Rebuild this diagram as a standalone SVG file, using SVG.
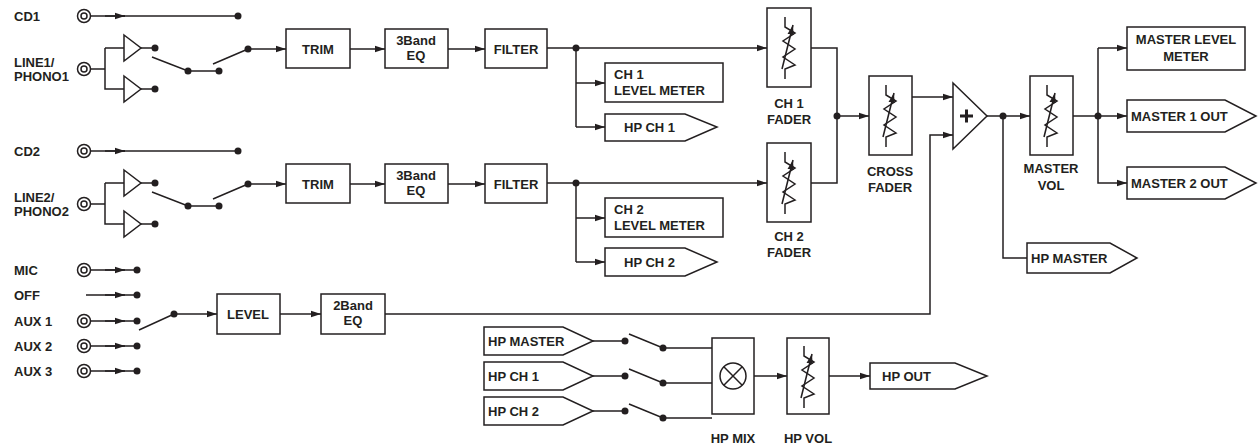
<svg xmlns="http://www.w3.org/2000/svg" width="1260" height="448" viewBox="0 0 1260 448">
<style>
.l{stroke:#231f20;stroke-width:1.5;fill:none}
.b{stroke:#231f20;stroke-width:1.5;fill:#fff}
.t{font-family:"Liberation Sans",Arial,sans-serif;font-weight:bold;font-size:13px;fill:#231f20}
.c{text-anchor:middle}
.d{fill:#231f20}
</style>
<defs>
<marker id="a" markerWidth="10" markerHeight="8" refX="10" refY="4" orient="auto" markerUnits="userSpaceOnUse"><path d="M0,0.8 L10,4 L0,7.2z" fill="#231f20"/></marker>
<g id="jack"><circle r="6.5" class="l"/><circle r="3" class="l"/></g>
<g id="fad"><path class="l" d="M-4,-30 V-20 L6,-14 L-6,-6 L6,2 L-6,10 L6,18 L-4,22 V32"/><path class="l" d="M-7,22 L4,-22" marker-end="url(#a)"/></g>
<g id="amp"><path class="b" d="M0,-13 L17,0 L0,13z"/></g>
</defs>

<g id="connectors">
<!-- CH1 -->
<path class="l" d="M91,16 H125"/><path class="l" d="M105,16 H125" marker-end="url(#a)"/><path class="l" d="M120,16 H238"/>
<path class="l" d="M91,69 H105 M105,48 V89 H124 M105,48 H124 M141,48 H155 M141,89 H155"/>
<path class="l" d="M152,57 L188,71 H219 M213,64 L248,49"/>
<path class="l" d="M248,49 H286" marker-end="url(#a)"/>
<path class="l" d="M350,49 H385" marker-end="url(#a)"/>
<path class="l" d="M448,49 H485" marker-end="url(#a)"/>
<path class="l" d="M547,48 H767" marker-end="url(#a)"/>
<path class="l" d="M576,48 V127"/>
<path class="l" d="M576,83 H605" marker-end="url(#a)"/>
<path class="l" d="M576,127 H605" marker-end="url(#a)"/>
<!-- CH2 -->
<path class="l" d="M91,151 H125"/><path class="l" d="M105,151 H125" marker-end="url(#a)"/><path class="l" d="M120,151 H238"/>
<path class="l" d="M91,204 H105 M105,183 V224 H124 M105,183 H124 M141,183 H155 M141,224 H155"/>
<path class="l" d="M152,192 L188,206 H219 M213,199 L248,184"/>
<path class="l" d="M248,184 H286" marker-end="url(#a)"/>
<path class="l" d="M350,184 H385" marker-end="url(#a)"/>
<path class="l" d="M448,184 H485" marker-end="url(#a)"/>
<path class="l" d="M547,183 H767" marker-end="url(#a)"/>
<path class="l" d="M576,183 V262"/>
<path class="l" d="M576,218 H605" marker-end="url(#a)"/>
<path class="l" d="M576,262 H605" marker-end="url(#a)"/>
<!-- faders to cross -->
<path class="l" d="M811,48 H837 V183 H811"/>
<path class="l" d="M837,116 H869" marker-end="url(#a)"/>
<path class="l" d="M912,97 H953" marker-end="url(#a)"/>
<path class="l" d="M385,314 H930 V135 H953" marker-end="url(#a)"/>
<path class="l" d="M987,116 H1030" marker-end="url(#a)"/>
<path class="l" d="M1003,116 V258 H1027"/>
<path class="l" d="M1073,116 H1127" marker-end="url(#a)"/>
<path class="l" d="M1098,48 H1127" marker-end="url(#a)"/>
<path class="l" d="M1098,48 V183 H1127" marker-end="url(#a)"/>
<!-- mic -->
<path class="l" d="M91,270 H137 M86,295 H137 M91,321 H137 M91,346 H137 M91,371 H137"/>
<path class="l" d="M105,270 H125" marker-end="url(#a)"/>
<path class="l" d="M105,295 H125" marker-end="url(#a)"/>
<path class="l" d="M105,321 H125" marker-end="url(#a)"/>
<path class="l" d="M105,346 H125" marker-end="url(#a)"/>
<path class="l" d="M105,371 H125" marker-end="url(#a)"/>
<path class="l" d="M139,330 L174,314"/>
<path class="l" d="M174,314 H217" marker-end="url(#a)"/>
<path class="l" d="M280,314 H321" marker-end="url(#a)"/>
<!-- HP -->
<path class="l" d="M593,341 H625 M629,334 L663,348 H712"/>
<path class="l" d="M593,376 H625 M629,369 L663,383 H712"/>
<path class="l" d="M593,411 H625 M629,404 L663,418 H712"/>
<path class="l" d="M754,376 H787" marker-end="url(#a)"/>
<path class="l" d="M829,376 H870" marker-end="url(#a)"/>
</g>

<g id="dots" class="d">
<circle cx="238" cy="16" r="3.5"/><circle cx="155" cy="48" r="3.5"/><circle cx="155" cy="89" r="3.5"/><circle cx="188" cy="71" r="3.5"/><circle cx="219" cy="71" r="3.5"/><circle cx="248" cy="49" r="3.5"/><circle cx="576" cy="48" r="3.5"/>
<circle cx="238" cy="151" r="3.5"/><circle cx="155" cy="183" r="3.5"/><circle cx="155" cy="224" r="3.5"/><circle cx="188" cy="206" r="3.5"/><circle cx="219" cy="206" r="3.5"/><circle cx="248" cy="184" r="3.5"/><circle cx="576" cy="183" r="3.5"/>
<circle cx="837" cy="116" r="3.5"/><circle cx="1003" cy="116" r="3.5"/><circle cx="1098" cy="116" r="3.5"/>
<circle cx="137" cy="270" r="3.5"/><circle cx="137" cy="295" r="3.5"/><circle cx="137" cy="321" r="3.5"/><circle cx="137" cy="346" r="3.5"/><circle cx="137" cy="371" r="3.5"/><circle cx="174" cy="314" r="3.5"/>
<circle cx="625" cy="341" r="3.5"/><circle cx="663" cy="348" r="3.5"/><circle cx="625" cy="376" r="3.5"/><circle cx="663" cy="383" r="3.5"/><circle cx="625" cy="411" r="3.5"/><circle cx="663" cy="418" r="3.5"/>
</g>

<g id="inputs">
<text class="t" x="14" y="21">CD1</text><use href="#jack" x="84" y="16"/>
<text class="t" x="14" y="67">LINE1/</text><text class="t" x="14" y="81">PHONO1</text><use href="#jack" x="84" y="69"/>
<use href="#amp" x="124" y="48"/><use href="#amp" x="124" y="89"/>
<text class="t" x="14" y="156">CD2</text><use href="#jack" x="84" y="151"/>
<text class="t" x="14" y="202">LINE2/</text><text class="t" x="14" y="216">PHONO2</text><use href="#jack" x="84" y="204"/>
<use href="#amp" x="124" y="183"/><use href="#amp" x="124" y="224"/>
<text class="t" x="14" y="275">MIC</text><use href="#jack" x="84" y="270"/>
<text class="t" x="14" y="300">OFF</text>
<text class="t" x="14" y="326">AUX 1</text><use href="#jack" x="84" y="321"/>
<text class="t" x="14" y="351">AUX 2</text><use href="#jack" x="84" y="346"/>
<text class="t" x="14" y="376">AUX 3</text><use href="#jack" x="84" y="371"/>
</g>

<g id="ch1">
<rect class="b" x="286" y="29" width="64" height="39"/><text class="t c" x="318" y="54">TRIM</text>
<rect class="b" x="385" y="29" width="63" height="39"/><text class="t c" x="416" y="45">3Band</text><text class="t c" x="416" y="60">EQ</text>
<rect class="b" x="485" y="29" width="62" height="39"/><text class="t c" x="516" y="54">FILTER</text>
<rect class="b" x="605" y="63" width="118" height="39"/><text class="t" x="614" y="79">CH 1</text><text class="t" x="614" y="95">LEVEL METER</text>
<path class="b" d="M605,114 H685 L717,127 L685,141 H605z"/><text class="t" x="624" y="132">HP CH 1</text>
<rect class="b" x="767" y="8" width="44" height="79"/><use href="#fad" x="789" y="47"/>
<text class="t c" x="789" y="108">CH 1</text><text class="t c" x="789" y="124">FADER</text>
</g>
<g id="ch2">
<rect class="b" x="286" y="164" width="64" height="39"/><text class="t c" x="318" y="189">TRIM</text>
<rect class="b" x="385" y="164" width="63" height="39"/><text class="t c" x="416" y="180">3Band</text><text class="t c" x="416" y="195">EQ</text>
<rect class="b" x="485" y="164" width="62" height="39"/><text class="t c" x="516" y="189">FILTER</text>
<rect class="b" x="605" y="198" width="118" height="39"/><text class="t" x="614" y="214">CH 2</text><text class="t" x="614" y="230">LEVEL METER</text>
<path class="b" d="M605,248 H685 L717,262 L685,276 H605z"/><text class="t" x="624" y="267">HP CH 2</text>
<rect class="b" x="767" y="143" width="44" height="79"/><use href="#fad" x="789" y="182"/>
<text class="t c" x="789" y="241">CH 2</text><text class="t c" x="789" y="257">FADER</text>
</g>
<g id="cross">
<rect class="b" x="869" y="76" width="43" height="79"/><use href="#fad" x="890" y="115"/>
<text class="t c" x="890" y="176">CROSS</text><text class="t c" x="890" y="192">FADER</text>
</g>
<g id="sum">
<path class="b" d="M953,83 L987,116 L953,149z"/><path d="M960,116 H973 M966.5,109.5 V122.5" stroke="#231f20" stroke-width="3"/>
</g>
<g id="mastervol">
<rect class="b" x="1030" y="76" width="43" height="79"/><use href="#fad" x="1051" y="115"/>
<text class="t c" x="1051" y="173">MASTER</text><text class="t c" x="1051" y="190">VOL</text>
</g>
<g id="outs">
<rect class="b" x="1127" y="27" width="118" height="43"/><text class="t c" x="1186" y="44">MASTER LEVEL</text><text class="t c" x="1186" y="61">METER</text>
<path class="b" d="M1127,100 H1225 L1256,116 L1225,132 H1127z"/><text class="t" x="1131" y="121">MASTER 1 OUT</text>
<path class="b" d="M1127,167 H1225 L1256,183 L1225,199 H1127z"/><text class="t" x="1131" y="188">MASTER 2 OUT</text>
<path class="b" d="M1027,243 H1110 L1137,258 L1110,273 H1027z"/><text class="t" x="1031" y="263">HP MASTER</text>
</g>
<g id="mic">
<rect class="b" x="217" y="294" width="63" height="40"/><text class="t c" x="248" y="319">LEVEL</text>
<rect class="b" x="321" y="294" width="64" height="40"/><text class="t c" x="353" y="310">2Band</text><text class="t c" x="353" y="325">EQ</text>
</g>
<g id="hp">
<path class="b" d="M484,327 H563 L593,341 L563,355 H484z"/><text class="t" x="488" y="346">HP MASTER</text>
<path class="b" d="M484,362 H563 L593,376 L563,390 H484z"/><text class="t" x="488" y="381">HP CH 1</text>
<path class="b" d="M484,397 H563 L593,411 L563,425 H484z"/><text class="t" x="488" y="416">HP CH 2</text>
<rect class="b" x="712" y="338" width="42" height="76"/><circle class="l" cx="733" cy="376" r="13"/><path class="l" d="M723.8,366.8 L742.2,385.2 M742.2,366.8 L723.8,385.2"/>
<text class="t c" x="733" y="443">HP MIX</text>
<rect class="b" x="787" y="338" width="42" height="76"/><use href="#fad" x="808" y="376"/>
<text class="t c" x="808" y="443">HP VOL</text>
<path class="b" d="M870,363 H955 L987,376 L955,389 H870z"/><text class="t" x="882" y="381">HP OUT</text>
</g>
</svg>
